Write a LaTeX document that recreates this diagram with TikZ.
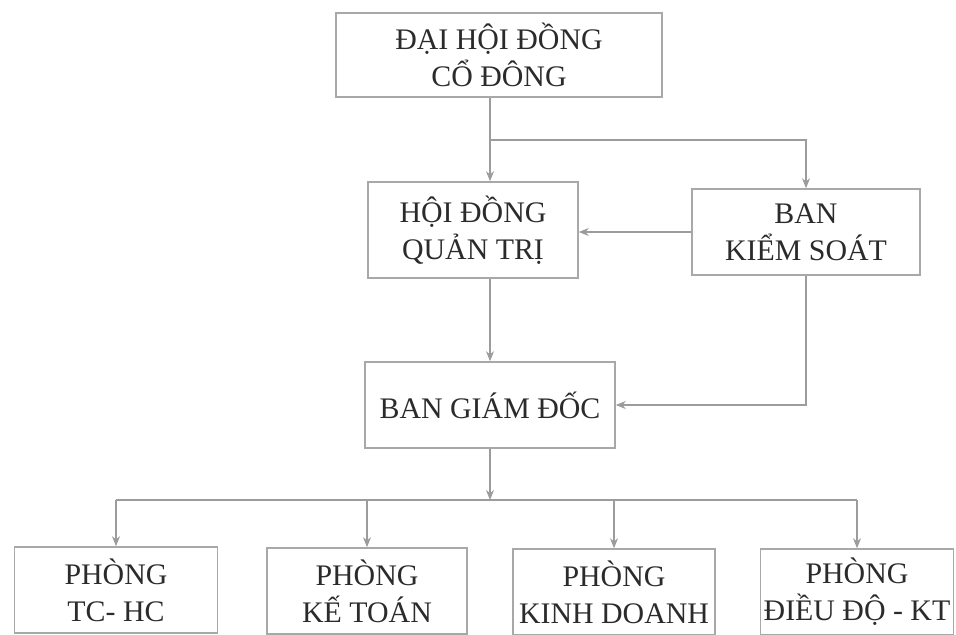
\documentclass[tikz,border=0pt]{standalone}
\usepackage{fontspec}
\setmainfont{Liberation Serif}
\usepackage{xcolor}
\usetikzlibrary{arrows.meta,positioning}
\definecolor{ink}{HTML}{2B2B2B}
\definecolor{frame}{HTML}{A8A8A8}
\definecolor{wire}{HTML}{9C9C9C}
\tikzset{
  box/.style={draw=frame,line width=0.9pt,fill=white,align=center,text=ink,inner sep=0pt,font=\fontsize{17}{21}\selectfont},
  conn/.style={-{Stealth[length=2mm,width=1.6mm]},line width=0.6pt,color=wire},
  plain/.style={line width=0.6pt,color=wire},
}

\begin{document}
\begin{tikzpicture}[x=0.02cm,y=-0.02cm]
    \useasboundingbox (0,0) rectangle (956,635);
    % top levels
    \node[box,minimum width=6.52cm,minimum height=1.68cm] (dhcd) at (499,55) {ĐẠI HỘI ĐỒNG\\CỔ ĐÔNG};
    \node[box,minimum width=4.2cm,minimum height=1.92cm] (hdqt) at (473,230) {HỘI ĐỒNG\\QUẢN TRỊ};
    \node[box,minimum width=4.56cm,minimum height=1.72cm] (bks) at (806,232) {BAN\\KIỂM SOÁT};
    \node[box,minimum width=5cm,minimum height=1.72cm] (bgd) at (490,405) {BAN GIÁM ĐỐC};
    % departments
    \node[box,minimum width=4.06cm,minimum height=1.72cm] (tchc) at (116,590) {PHÒNG\\TC- HC};
    \node[box,minimum width=4cm,minimum height=1.72cm] (ketoan) at (367,591) {PHÒNG\\KẾ TOÁN};
    \node[box,minimum width=4.04cm,minimum height=1.72cm] (kinhdoanh) at (614,592) {PHÒNG\\KINH DOANH};
    \node[box,minimum width=3.86cm,minimum height=1.72cm] (dieudo) at (857,592) {PHÒNG\\ĐIỀU ĐỘ - KT};
    \coordinate (split) at (490,140);
    \coordinate (bus) at (490,500);
    % connectors
    \draw[plain] (dhcd.south -| bgd.north) -- (split);
    \draw[conn] (split) -- (hdqt.north -| bgd.north);
    \draw[conn] (split) -| (bks.north);
    \draw[conn] (bks.west) -- (bks.west -| hdqt.east);
    \draw[conn] (hdqt.south -| bgd.north) -- (bgd.north);
    \draw[conn] (bks.south) |- (bgd.east);
    \draw[conn] (bgd.south) -- (bus);
    \draw[plain] (bus -| tchc.north) -- (bus -| dieudo.north);
    \foreach \d in {tchc,ketoan,kinhdoanh,dieudo}
      \draw[conn] (bus -| \d.north) -- (\d.north);
  \end{tikzpicture}
\end{document}
